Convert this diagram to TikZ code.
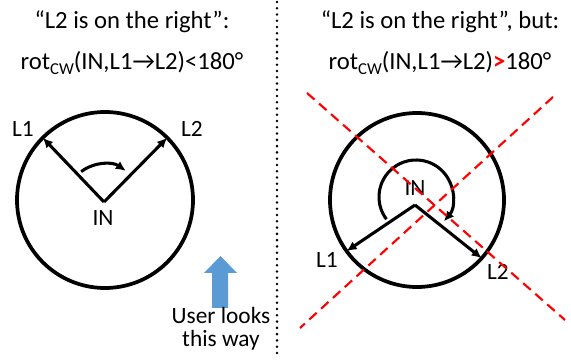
\documentclass[tikz,border=0pt]{standalone}
\usepackage{fontspec}
\setmainfont{Carlito}
\usetikzlibrary{arrows.meta}
\definecolor{UserBlue}{HTML}{5B9BD5}
\definecolor{CrossRed}{HTML}{FF0000}

\begin{document}
\begin{tikzpicture}[x=0.75pt,y=0.75pt,>={Latex[length=7.5pt,width=7pt]},line cap=butt,line join=miter,
    rim/.style={line width=2.8pt},
    ptr/.style={->,line width=2.3pt},
    lbl/.style={inner sep=0pt,font=\fontsize{17.5}{20}\selectfont},
    heading/.style={inner sep=0pt,font=\fontsize{18.5}{22}\selectfont},
    cross/.style={CrossRed,line width=1.6pt,dash pattern=on 7.5pt off 4.5pt}]

% Canvas (pixel grid, y up)
\useasboundingbox (0,0) rectangle (571,360);

% Radii
\def\rad{88}
\def\turnrad{38}
\newcommand{\cwsub}{\raisebox{-0.45ex}{\fontsize{12.5}{12.5}\selectfont CW}}

% ---- LEFT: L2 IS ON THE RIGHT ----
\node[heading] (TitleA) at (132,338) {“L2 is on the right”:};
\node[heading] (RuleA) at (132,297) {rot\cwsub(IN,L1→L2)<180°};

\coordinate (CenterA) at (105,160);
\coordinate (InA) at (104,158);
\draw[rim] (CenterA) circle[radius=\rad];

\coordinate (LeftA) at (42.8,222.2);
\coordinate (RightA) at (167.2,222.2);
\draw[ptr] (InA) -- (LeftA);
\draw[ptr] (InA) -- (RightA);

% turning arc (clockwise, short way)
\draw[ptr] (InA) ++(127:\turnrad) arc[start angle=127, end angle=55, radius=\turnrad];

\node[lbl] (LabelL1A) at (23,231) {L1};
\node[lbl] (LabelL2A) at (192,231) {L2};
\node[lbl] (LabelInA) at (103,142) {IN};

% viewing direction
\fill[UserBlue] (212,52) -- (228,52) -- (228,87) -- (237,87) -- (220.5,104)
    -- (204,87) -- (212,87) -- cycle;
\node[lbl,align=center] (UserNote) at (221,31) {User looks\\[-3pt]this way};

% ---- DIVIDER ----
\coordinate (DivTop) at (277,358);
\coordinate (DivBot) at (277,2);
\draw[line width=2.1pt,line cap=round,dash pattern=on 0pt off 4.7pt] (DivTop) -- (DivBot);

% ---- RIGHT: L2 IS ON THE RIGHT, BUT ----
\node[heading] (TitleB) at (440,338) {“L2 is on the right”, but:};
\node[heading] (RuleB) at (440,297) {rot\cwsub(IN,L1→L2)\textcolor{CrossRed}{\textbf{>}}180°};

\coordinate (CenterB) at (417,160);
\coordinate (InB) at (415,155);
\draw[rim] (CenterB) circle[radius=87];

\coordinate (LeftB) at (346.6,108.9);
\coordinate (RightB) at (481.7,101.8);
\draw[ptr] (InB) -- (LeftB);
\draw[ptr] (InB) -- (RightB);

% turning arc (clockwise, long way)
\draw[ptr] (416,163) ++(217:37) arc[start angle=217, end angle=-41, radius=37];

\node[lbl] (LabelInB) at (415,172) {IN};
\node[lbl] (LabelL1B) at (327,100) {L1};
\node[lbl] (LabelL2B) at (498,88) {L2};

% crossed out
\coordinate (CrossA1) at (307,267);
\coordinate (CrossA2) at (565,40);
\coordinate (CrossB1) at (553,263);
\coordinate (CrossB2) at (300,32);
\draw[cross] (CrossA1) -- (CrossA2);
\draw[cross] (CrossB1) -- (CrossB2);

\end{tikzpicture}
\end{document}
